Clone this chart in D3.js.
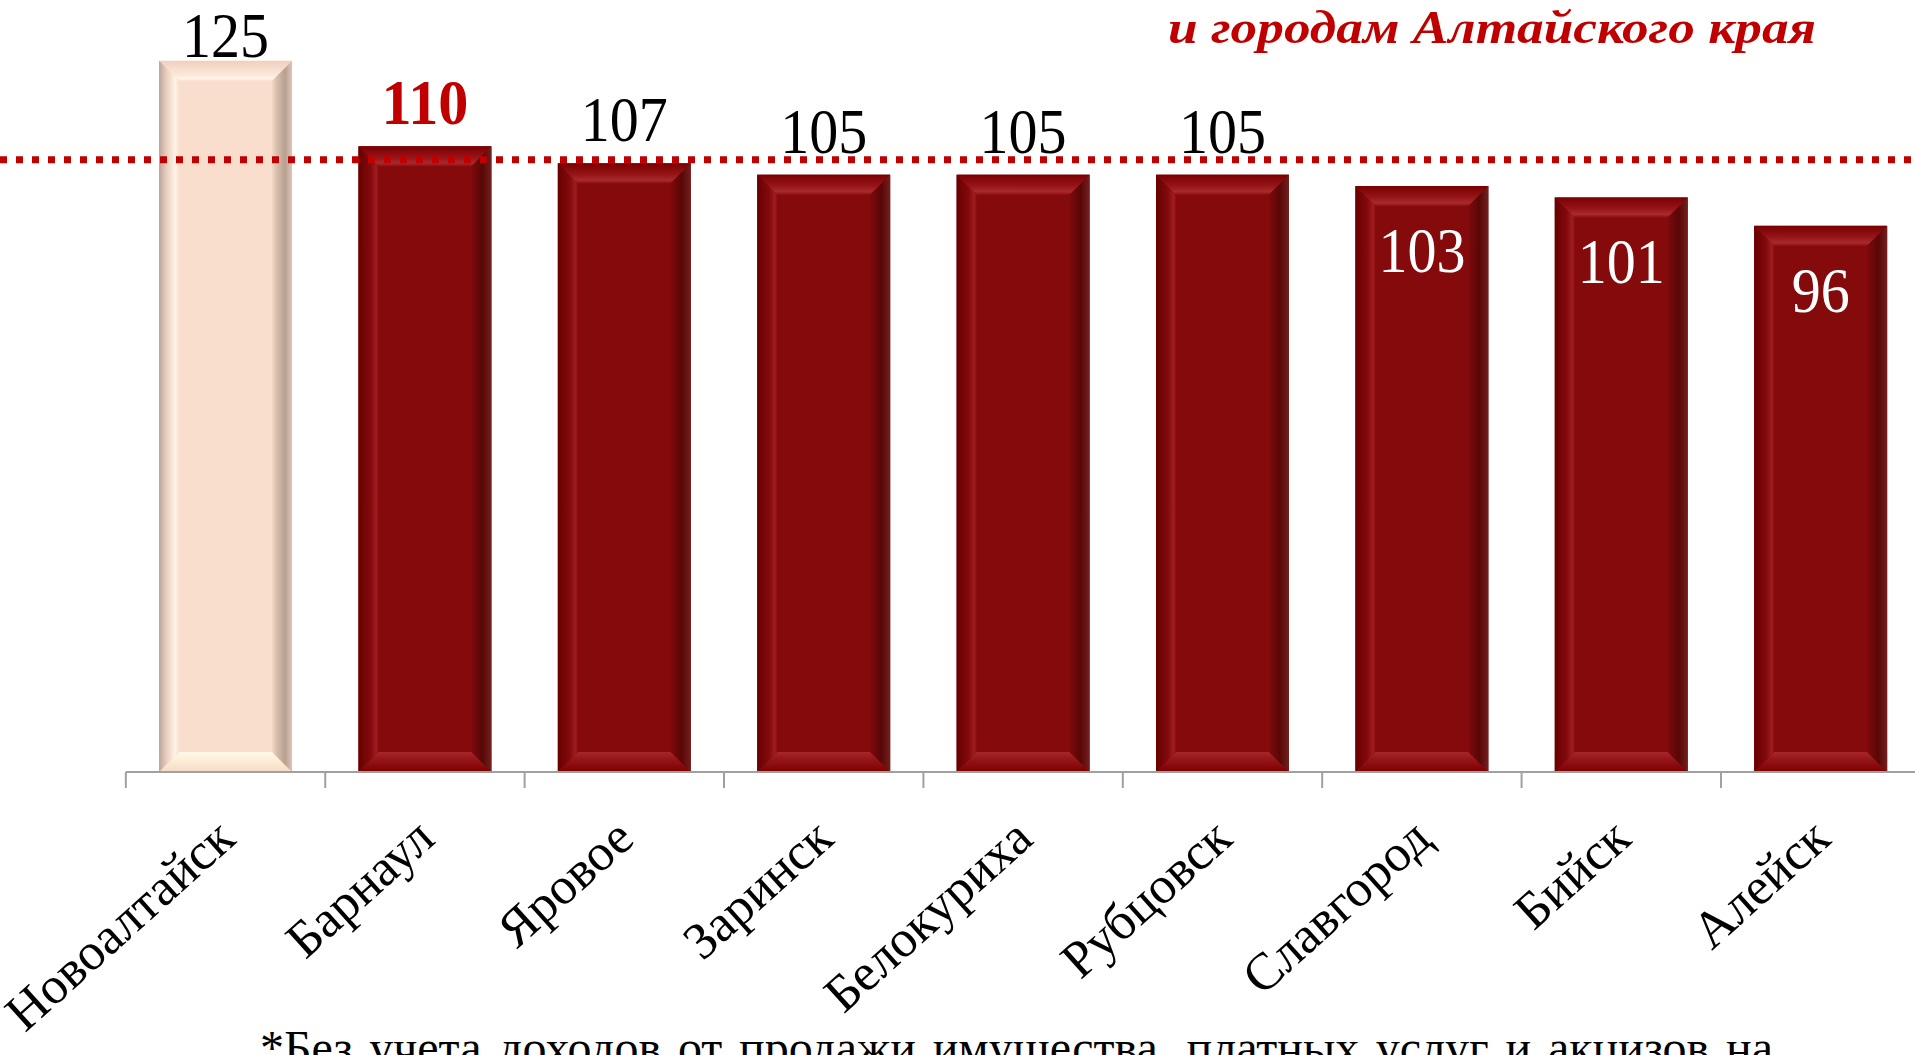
<!DOCTYPE html>
<html>
<head>
<meta charset="utf-8">
<script src="https://cdn.jsdelivr.net/npm/d3@7"></script>
<style>
  body { margin: 0; background: #fff; }
  svg { display: block; }
  text { font-family: "Liberation Serif", "Times New Roman", serif; }
</style>
</head>
<body>
<svg id="chart"></svg>
<script>
// данные
const cities = ['Новоалтайск', 'Барнаул', 'Яровое', 'Заринск', 'Белокуриха', 'Рубцовск', 'Славгород', 'Бийск', 'Алейск'];
const values = [125, 110, 107, 105, 105, 105, 103, 101, 96];
const referenceValue = 107.6; // пунктирная линия
const leaderCity = 'Новоалтайск';
const capitalCity = 'Барнаул';
const titleLine = 'и городам Алтайского края';
const footnote = '*Без учета доходов от продажи имущества, платных услуг и акцизов на';

const width = 1915, height = 1055;
const svg = d3.select('#chart').attr('width', width).attr('height', height);

const x = d3.scaleBand().domain(cities).range([125.8, 1920.4]).paddingInner(0.333).paddingOuter(0.1667);
const y = d3.scaleLinear().domain([0, 135.7]).range([772, 0]);

const data = cities.map((c, i) => ({ city: c, value: values[i] }));

// градиенты для объёмных столбцов
const palettes = {
  dark: {
    face: '#850a0c',
    top: [[0, '#7a0000'], [0.55, '#951418'], [0.85, '#a9292d'], [1, '#8e1014']],
    bottom: [[0, '#7c0000'], [0.75, '#9a1a1e'], [1, '#a8272b']],
    left: [[0, '#680000'], [0.6, '#820a0d'], [0.88, '#a01c20'], [1, '#8c0d10']],
    right: [[0, '#73201f'], [0.45, '#580707'], [1, '#7e0a0c']]
  },
  light: {
    face: '#f9decd',
    top: [[0, '#f0cfbf'], [0.7, '#fbe8da'], [0.9, '#fff5ea'], [1, '#fae2d2']],
    bottom: [[0, '#f6dac6'], [0.75, '#fff2dc'], [1, '#fff8ea']],
    left: [[0, '#b9a49a'], [0.35, '#e6ccbd'], [0.8, '#fff3e6'], [1, '#fae0d0']],
    right: [[0, '#dcc6b9'], [0.35, '#b8a090'], [0.75, '#d6bcab'], [1, '#f4d8c6']]
  }
};
// направление: от внешнего края к внутреннему
const dirs = {
  top: [0, 0, 0, 1], bottom: [0, 1, 0, 0], left: [0, 0, 1, 0], right: [1, 0, 0, 0]
};
const defs = svg.append('defs');
Object.entries(palettes).forEach(([name, p]) => {
  Object.keys(dirs).forEach(side => {
    const d = dirs[side];
    const g = defs.append('linearGradient').attr('id', `g-${name}-${side}`)
      .attr('x1', d[0]).attr('y1', d[1]).attr('x2', d[2]).attr('y2', d[3]);
    p[side].forEach(s => g.append('stop').attr('offset', s[0]).attr('stop-color', s[1]));
  });
});

// столбцы
const bev = 20;
const bars = svg.append('g').selectAll('g').data(data).join('g');
bars.each(function (d) {
  const g = d3.select(this);
  const pal = d.city === leaderCity ? 'light' : 'dark';
  const x0 = x(d.city), x1 = x0 + x.bandwidth();
  const yt = y(d.value), yb = y(0);
  g.append('rect').attr('x', x0).attr('y', yt).attr('width', x1 - x0).attr('height', yb - yt)
    .attr('fill', palettes[pal].face);
  const polys = {
    top: [[x0, yt], [x1, yt], [x1 - bev, yt + bev], [x0 + bev, yt + bev]],
    bottom: [[x0, yb], [x1, yb], [x1 - bev, yb - bev], [x0 + bev, yb - bev]],
    left: [[x0, yt], [x0 + bev, yt + bev], [x0 + bev, yb - bev], [x0, yb]],
    right: [[x1, yt], [x1 - bev, yt + bev], [x1 - bev, yb - bev], [x1, yb]]
  };
  Object.entries(polys).forEach(([side, pts]) => {
    g.append('polygon').attr('points', pts.map(p => p.join(',')).join(' '))
      .attr('fill', `url(#g-${pal}-${side})`);
  });
});

// ось X
const axis = svg.append('g');
axis.append('line').attr('x1', x.range()[0]).attr('x2', width).attr('y1', y(0)).attr('y2', y(0))
  .attr('stroke', '#a0a0a0').attr('stroke-width', 2);
const edge = (x.step() - x.bandwidth()) / 2;
const tickXs = cities.map(c => x(c) - edge).concat([x(cities[cities.length - 1]) + x.bandwidth() + edge]);
axis.selectAll('line.tick').data(tickXs).join('line').attr('class', 'tick')
  .attr('x1', d => d).attr('x2', d => d).attr('y1', y(0)).attr('y2', y(0) + 16)
  .attr('stroke', '#a0a0a0').attr('stroke-width', 2);

axis.selectAll('text.cat').data(cities).join('text').attr('class', 'cat')
  .attr('transform', c => `translate(${x(c) + x.bandwidth() / 2 + 12},842) rotate(-42)`)
  .attr('text-anchor', 'end')
  .style('font-size', '52px')
  .attr('fill', '#000')
  .text(c => c);

// пунктирная линия
svg.append('line').attr('x1', 0).attr('x2', width)
  .attr('y1', y(referenceValue)).attr('y2', y(referenceValue))
  .attr('stroke', '#c00000').attr('stroke-width', 7).attr('stroke-dasharray', '7 9');

// подписи значений
const refY = y(referenceValue);
svg.append('g').selectAll('text').data(data).join('text')
  .attr('x', d => x(d.city) + x.bandwidth() / 2)
  .attr('y', d => {
    const above = Math.max(y(d.value) - 22, 57);
    return above > refY ? y(d.value) + 86 : above;
  })
  .attr('text-anchor', 'middle')
  .attr('textLength', d => String(d.value).length * 29)
  .attr('lengthAdjust', 'spacingAndGlyphs')
  .style('font-size', '64px')
  .style('font-weight', d => d.city === capitalCity ? 'bold' : 'normal')
  .attr('fill', d => {
    if (d.city === capitalCity) return '#c00000';
    return y(d.value) - 22 > refY ? '#fff' : '#000';
  })
  .text(d => d.value);

// заголовок (вторая строка)
svg.append('text').attr('x', 1168).attr('y', 43)
  .attr('textLength', 648).attr('lengthAdjust', 'spacingAndGlyphs')
  .style('font-size', '47px').style('font-weight', 'bold').style('font-style', 'italic')
  .attr('fill', '#c00000')
  .text(titleLine);

// сноска
const fn = svg.append('text').attr('x', 260).attr('y', 1064)
  .style('font-size', '48px').attr('fill', '#000')
  .text(footnote);
const natural = fn.node().getComputedTextLength();
const spaces = footnote.split(' ').length - 1;
fn.style('word-spacing', ((1513 - natural) / spaces) + 'px');
</script>
</body>
</html>
